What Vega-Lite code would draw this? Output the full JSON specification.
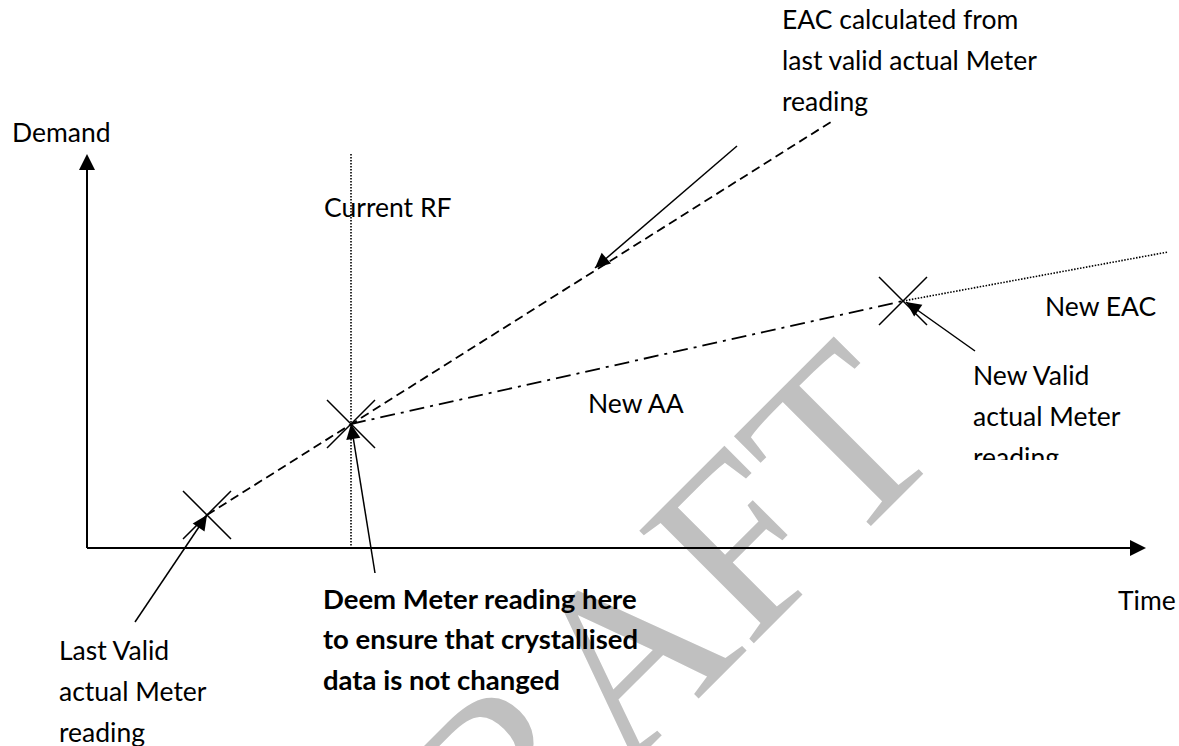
{
  "$schema": "https://vega.github.io/schema/vega-lite/v6.json",
  "width": 1179,
  "height": 746,
  "autosize": "none",
  "padding": 0,
  "background": "white",
  "config": {"view": {"stroke": null}},
  "datasets": {
    "watermark": [{"text": "DRAFT", "t": 666, "d": 15}],
    "lines": [
      {"series": "EAC from last valid reading", "t": 207, "d": 231, "t2": 834, "d2": 626},
      {"series": "New AA", "t": 351, "d": 322, "t2": 903, "d2": 445},
      {"series": "New EAC", "t": 903, "d": 445, "t2": 1168, "d2": 494},
      {"series": "Current RF", "t": 351, "d": 592, "t2": 351, "d2": 198},
      {"series": "axis", "t": 87, "d": 198, "t2": 87, "d2": 580},
      {"series": "axis", "t": 87, "d": 198, "t2": 1135, "d2": 198},
      {"series": "pointer", "t": 135, "d": 124, "t2": 207, "d2": 231},
      {"series": "pointer", "t": 375, "d": 173, "t2": 351, "d2": 322},
      {"series": "pointer", "t": 737, "d": 600, "t2": 595, "d2": 478},
      {"series": "pointer", "t": 975, "d": 395, "t2": 906, "d2": 444}
    ],
    "readings": [
      {"name": "Last valid actual reading", "t": 207, "d": 231},
      {"name": "Deemed reading", "t": 351, "d": 322},
      {"name": "New valid actual reading", "t": 903, "d": 445}
    ],
    "heads": [
      {"kind": "axis", "t": 87, "d": 592, "heading": 0},
      {"kind": "axis", "t": 1146, "d": 198, "heading": 90},
      {"kind": "pointer", "t": 207, "d": 231, "heading": 34},
      {"kind": "pointer", "t": 351, "d": 322, "heading": -9},
      {"kind": "pointer", "t": 595, "d": 478, "heading": -131},
      {"kind": "pointer", "t": 906, "d": 444, "heading": -55}
    ],
    "labels": [
      {"text": "Demand", "t": 12, "d": 604},
      {"text": "Current RF", "t": 324, "d": 529},
      {"text": "EAC calculated from", "t": 782, "d": 717},
      {"text": "last valid actual Meter", "t": 782, "d": 676},
      {"text": "reading", "t": 782, "d": 635},
      {"text": "New EAC", "t": 1045, "d": 430},
      {"text": "New AA", "t": 588, "d": 333},
      {"text": "New Valid", "t": 973, "d": 361},
      {"text": "actual Meter", "t": 973, "d": 320},
      {"text": "reading", "t": 973, "d": 279},
      {"text": "Last Valid", "t": 59, "d": 86},
      {"text": "actual Meter", "t": 59, "d": 45},
      {"text": "reading", "t": 59, "d": 4},
      {"text": "Time", "t": 1118, "d": 136}
    ],
    "note": [
      {"text": "Deem Meter reading here", "t": 323, "d": 137},
      {"text": "to ensure that crystallised", "t": 323, "d": 97},
      {"text": "data is not changed", "t": 323, "d": 56}
    ],
    "clip": [{"t": 965, "t2": 1075, "d": 270, "d2": 286}]
  },
  "encoding": {
    "x": {"field": "t", "type": "quantitative", "scale": {"domain": [0, 1179], "nice": false, "zero": false}, "axis": null},
    "y": {"field": "d", "type": "quantitative", "scale": {"domain": [0, 746], "nice": false, "zero": false}, "axis": null}
  },
  "layer": [
    {
      "data": {"name": "watermark"},
      "mark": {"type": "text", "angle": 315, "font": "Liberation Serif", "fontSize": 245, "color": "#c0c0c0", "align": "center", "baseline": "alphabetic"},
      "encoding": {"text": {"field": "text"}}
    },
    {
      "data": {"name": "lines"},
      "transform": [{"filter": "datum.series === 'axis'"}],
      "mark": {"type": "rule", "color": "black", "strokeWidth": 2},
      "encoding": {"x2": {"field": "t2"}, "y2": {"field": "d2"}}
    },
    {
      "data": {"name": "lines"},
      "transform": [{"filter": "datum.series === 'pointer'"}],
      "mark": {"type": "rule", "color": "black", "strokeWidth": 1.5},
      "encoding": {"x2": {"field": "t2"}, "y2": {"field": "d2"}}
    },
    {
      "data": {"name": "lines"},
      "transform": [{"filter": "datum.series === 'EAC from last valid reading'"}],
      "mark": {"type": "rule", "color": "black", "strokeWidth": 1.8, "strokeDash": [9, 5]},
      "encoding": {"x2": {"field": "t2"}, "y2": {"field": "d2"}}
    },
    {
      "data": {"name": "lines"},
      "transform": [{"filter": "datum.series === 'New AA'"}],
      "mark": {"type": "rule", "color": "black", "strokeWidth": 1.8, "strokeDash": [15, 6, 3, 6]},
      "encoding": {"x2": {"field": "t2"}, "y2": {"field": "d2"}}
    },
    {
      "data": {"name": "lines"},
      "transform": [{"filter": "datum.series === 'New EAC' || datum.series === 'Current RF'"}],
      "mark": {"type": "rule", "color": "black", "strokeWidth": 1.6, "strokeDash": [1.5, 1.5]},
      "encoding": {"x2": {"field": "t2"}, "y2": {"field": "d2"}}
    },
    {
      "data": {"name": "readings"},
      "mark": {"type": "point", "shape": "M-1,-1L1,1M-1,1L1,-1", "size": 2304, "filled": false, "stroke": "black", "strokeWidth": 1.5, "opacity": 1}
    },
    {
      "data": {"name": "heads"},
      "transform": [{"filter": "datum.kind === 'axis'"}],
      "mark": {"type": "point", "shape": "M0,0L-1,2L1,2Z", "size": 256, "filled": true, "color": "black", "opacity": 1},
      "encoding": {"angle": {"field": "heading", "type": "quantitative", "scale": null}}
    },
    {
      "data": {"name": "heads"},
      "transform": [{"filter": "datum.kind === 'pointer'"}],
      "mark": {"type": "point", "shape": "M0,0L-0.95,2L0.95,2Z", "size": 225, "filled": true, "color": "black", "opacity": 1},
      "encoding": {"angle": {"field": "heading", "type": "quantitative", "scale": null}}
    },
    {
      "data": {"name": "labels"},
      "mark": {"type": "text", "font": "Lato", "fontSize": 26.5, "color": "black", "align": "left", "baseline": "alphabetic"},
      "encoding": {"text": {"field": "text"}}
    },
    {
      "data": {"name": "note"},
      "mark": {"type": "text", "font": "Lato", "fontWeight": "bold", "fontSize": 27.5, "color": "black", "align": "left", "baseline": "alphabetic"},
      "encoding": {"text": {"field": "text"}}
    },
    {
      "data": {"name": "clip"},
      "mark": {"type": "rect", "color": "white", "opacity": 1},
      "encoding": {"x2": {"field": "t2"}, "y2": {"field": "d2"}}
    }
  ]
}
